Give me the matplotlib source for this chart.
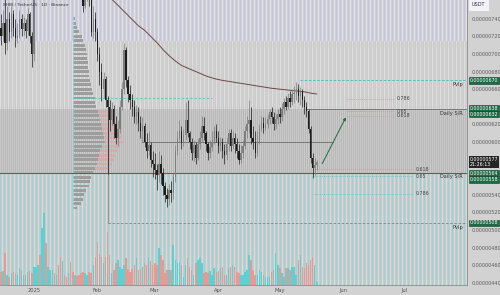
import numpy as np
import matplotlib.pyplot as plt
from matplotlib.patches import FancyArrowPatch
from matplotlib.transforms import blended_transform_factory
from matplotlib.colors import to_rgb

# prices in 1e-8 USDT, one candle per day, day 0 = 2024-12-16
first_open = 730
close = [720, 735, 712, 740, 725, 745, 730, 718, 722, 740, 728, 735, 726, 745, 720, 700, 780,
         800, 830, 815, 850, 870, 845, 860, 880, 900, 885, 910, 890, 870, 880, 860, 850, 870,
         840, 820, 835, 810, 800, 790, 755, 770, 780, 765, 725, 740, 725, 700, 680, 660, 672,
         648, 640, 625, 638, 620, 605, 615, 640, 660, 705, 670, 655, 648, 640, 628, 634, 622,
         612, 618, 600, 590, 596, 580, 575, 568, 562, 575, 565, 550, 540, 535, 545, 542, 560,
         590, 605, 612, 600, 608, 625, 610, 600, 588, 596, 582, 598, 605, 618, 610, 598, 588,
         594, 600, 612, 605, 595, 600, 590, 585, 598, 610, 595, 605, 598, 590, 580, 588, 595,
         612, 620, 625, 605, 600, 588, 600, 615, 622, 616, 620, 626, 634, 628, 620, 626, 632,
         628, 638, 645, 640, 650, 645, 655, 655, 660, 652, 658, 648, 640, 635, 615, 582, 570,
         574, 577]
high = [745, 750, 762, 755, 748, 755, 750, 740, 735, 750, 745, 742, 740, 752, 748, 725, 800,
        820, 845, 840, 870, 890, 880, 875, 900, 930, 915, 940, 925, 900, 905, 890, 875, 890,
        880, 850, 850, 840, 825, 815, 795, 785, 795, 790, 770, 755, 748, 730, 708, 690, 680,
        675, 652, 648, 645, 642, 630, 625, 648, 668, 712, 708, 675, 665, 655, 648, 642, 640,
        630, 628, 622, 610, 612, 600, 590, 588, 575, 590, 585, 570, 555, 548, 552, 556, 565,
        596, 612, 625, 618, 615, 645, 648, 612, 605, 602, 600, 605, 612, 630, 628, 612, 600,
        602, 612, 618, 620, 612, 606, 605, 598, 604, 615, 615, 612, 610, 604, 598, 596, 602,
        618, 630, 648, 640, 618, 612, 612, 620, 630, 628, 628, 632, 638, 640, 634, 632, 638,
        640, 644, 650, 652, 656, 658, 660, 664, 668, 666, 662, 660, 652, 645, 638, 618, 588,
        582, 580]
low = [710, 715, 700, 705, 715, 718, 720, 708, 712, 718, 720, 722, 718, 722, 712, 685, 692,
       775, 790, 800, 810, 840, 830, 835, 850, 870, 865, 880, 870, 855, 860, 840, 830, 840,
       820, 800, 805, 790, 780, 770, 748, 752, 760, 755, 720, 718, 715, 692, 665, 647, 650,
       640, 564, 612, 618, 605, 598, 595, 610, 636, 655, 662, 645, 638, 630, 622, 620, 612,
       605, 600, 594, 582, 585, 572, 560, 558, 545, 555, 552, 540, 532, 526, 528, 532, 535,
       555, 585, 600, 592, 595, 602, 606, 592, 580, 578, 575, 580, 592, 600, 602, 590, 580,
       582, 590, 598, 600, 588, 590, 582, 575, 580, 590, 590, 592, 588, 582, 575, 576, 582,
       592, 605, 610, 598, 592, 582, 584, 598, 612, 610, 614, 616, 620, 622, 614, 615, 620,
       622, 624, 632, 636, 638, 640, 642, 644, 648, 645, 642, 640, 632, 628, 610, 576, 559,
       562, 568]
volume = [13, 14, 32, 10, 8, 12, 13, 12, 10, 17, 15, 10, 10, 13, 14, 12, 18, 18, 20, 30,
          57, 72, 42, 18, 15, 15, 12, 10, 20, 28, 24, 10, 8, 12, 23, 13, 10, 9, 10, 12,
          13, 12, 10, 13, 12, 20, 28, 43, 31, 28, 22, 28, 53, 30, 12, 15, 22, 25, 18, 16,
          20, 27, 16, 13, 16, 20, 27, 15, 16, 18, 22, 20, 28, 24, 20, 22, 20, 37, 30, 25,
          12, 15, 15, 15, 40, 25, 22, 23, 20, 8, 20, 27, 18, 15, 10, 22, 25, 27, 22, 12,
          13, 12, 14, 10, 17, 13, 14, 17, 18, 10, 10, 17, 18, 20, 18, 13, 12, 10, 10, 13,
          15, 30, 25, 15, 10, 10, 15, 13, 10, 8, 8, 8, 13, 15, 32, 20, 17, 12, 8, 17,
          17, 15, 18, 18, 10, 25, 30, 18, 17, 22, 20, 25, 28, 20, 3]

# 200-day moving average readings
ma_days = [52, 55, 58, 61, 64, 67, 70, 73, 76, 79, 82, 85, 88, 92, 96, 100, 104, 108, 112,
           116, 120, 124, 128, 132, 136, 140, 144, 148, 151, 154]
ma_vals = [767, 760, 753, 746, 739, 732, 727, 720, 713, 705, 698, 692, 687, 683, 679, 675,
           672, 670, 668.5, 667, 665.5, 664, 662.5, 661, 660, 659, 658, 657, 655.5, 654.5]

# volume profile (rows of price), buy part and sell part
profile_prices = list(range(525, 745, 5))
profile_buy = [4, 8, 10, 11, 13, 16, 17, 18, 20, 22, 24, 25, 26, 27, 29, 32, 31, 30, 29, 28,
               27, 26, 25, 23, 22, 22, 20, 19, 18, 17, 16, 16, 15, 15, 14, 14, 13, 12, 10, 9,
               6, 4, 3, 2]
profile_sell = [0, 0, 0, 0, 0, 0, 0, 0, 0, 14, 15, 16, 17, 18, 18, 19, 18, 18, 17, 17,
                16, 15, 14, 0, 0, 0, 0, 0, 0, 0, 0, 0, 0, 0, 0, 0, 0, 0, 0, 0,
                0, 0, 0, 0]

date_ticks = [16, 47, 75, 106, 136, 167, 197]
date_labels = ['2025', 'Feb', 'Mar', 'Apr', 'May', 'Jun', 'Jul']

poc = 600.5
sr_top = [638, 632]
sr_bottom = [564, 558]
pivot_high = 670
pivot_low = 508
fib_up_levels = ['0.786', '0.65', '0.618']
fib_up_prices = [649, 635, 630]
fib_dn_levels = ['0.618', '0.65', '0.786']
fib_dn_prices = [569, 561, 541]
proj_start = (156.1, 572.7)
proj_end = (168.8, 630.7)

XMIN, XMAX = -0.5, 227.3
YMIN, YMAX = 437.5, 761.3

fig = plt.figure(figsize=(5, 2.95), dpi=100)
fig.patch.set_facecolor('#d2d2d2')
ax = fig.add_axes([0, 10 / 295, 467 / 500, 285 / 295])
ax.set_xlim(XMIN, XMAX)
ax.set_ylim(YMIN, YMAX)

# striped background, one image column per pixel
W, H = 467, 285
row_price = YMAX - (np.arange(H) + 0.5) * (YMAX - YMIN) / H
col = np.arange(W)
bg = np.zeros((H, W, 3))
zones = [
    (715, 1e9, '#d0d0d3', '#c6c6e4', '#e2e2e6', 4),
    (638, 715, '#cbcbcb', '#dddddd', '#d2d2d2', 4),
    (565, 638, '#b8b8b8', '#c9c9c9', '#bebebe', 2),
    (0, 565, '#c9c9c9', '#98d5da', '#dadada', 4),
]
for lo, hi, base, sa, sb, period in zones:
    line = np.tile(np.array(to_rgb(base)), (W, 1))
    line[col % period == 0] = to_rgb(sa)
    if period == 4:
        line[col % period == 2] = to_rgb(sb)
    rows = (row_price >= lo) & (row_price < hi)
    bg[rows] = line
ax.imshow(bg, extent=(XMIN, XMAX, YMIN, YMAX), aspect='auto', interpolation='nearest',
          zorder=0)

# volume profile
px_day = 1 / 2.05
buy_w = np.array(profile_buy) * px_day
sell_w = np.array(profile_sell) * px_day
ax.barh(profile_prices, buy_w, left=35.2, height=3.3, color='#9d9d9d', lw=0, zorder=1)
ax.barh(profile_prices, np.full(len(buy_w), 0.6), left=35.2, height=3.3, color='#7fcdd0',
        lw=0, zorder=1.1)
ax.barh(profile_prices, sell_w, left=35.2 + buy_w, height=3.3, color='#d6a8a8', lw=0,
        alpha=0.75, zorder=1)

# levels
ax.axhline(sr_bottom[0] + 1, color='#2f7a55', lw=0.8, zorder=2)
ax.plot([149, XMAX], [sr_top[0], sr_top[0]], color='#7a7a7a', lw=0.7, zorder=2)
ax.plot([69, 162], [poc, poc], color='#777777', lw=0.7, zorder=2)
ax.plot([146, XMAX], [pivot_high, pivot_high], color='#45b9bd', lw=0.6, ls=(0, (3, 2)), zorder=2)
ax.plot([52, XMAX], [pivot_low, pivot_low], color='#8a7c98', lw=0.6, ls=(0, (3, 2)), zorder=2)
ax.plot([35, 103], [650, 650], color='#5bbfc2', lw=0.6, ls=(0, (3, 2)), zorder=2)
ax.plot([52, 52], [pivot_low, 650], color='#8c8c8c', lw=0.6, zorder=2)

for lab, p in zip(fib_up_levels, fib_up_prices):
    ax.plot([168.8, 191.7], [p, p], color='#c59a9a', lw=0.5, ls=(0, (1.5, 1.5)), zorder=2)
    ax.text(193.2, p, lab, fontsize=3.4, color='#444444', va='center', ha='left', zorder=5)
for i, (lab, p) in enumerate(zip(fib_dn_levels, fib_dn_prices)):
    c = '#c59a9a' if i == 0 else '#5bbfc2'
    ax.plot([152, 201], [p, p], color=c, lw=0.5, ls=(0, (1.5, 1.5)), zorder=2)
    ax.text(202.4, p, lab, fontsize=3.4, color='#444444', va='center', ha='left', zorder=5)

ax.text(225.4, 632, 'Daily S/R', fontsize=3.6, color='#333333', ha='right', va='center', zorder=5)
ax.text(225.4, 561, 'Daily S/R', fontsize=3.6, color='#333333', ha='right', va='center', zorder=5)
ax.text(225.4, 665, 'Pvlp', fontsize=3.6, color='#333333', ha='right', va='center', zorder=5)
ax.text(225.4, 503, 'Pvlp', fontsize=3.6, color='#333333', ha='right', va='center', zorder=5)

# moving average
ax.plot(ma_days, ma_vals, color='#6a4848', lw=0.7, zorder=3)

# candles
opens = [first_open] + close[:-1]
days = np.arange(len(close))
for d, o, c, h, l in zip(days, opens, close, high, low):
    cc = '#7e7e7e' if c >= o else '#1d1d1d'
    ax.vlines(d, min(l, o, c), max(h, o, c), color=cc, lw=0.5, zorder=4)
    ax.bar(d, max(abs(c - o), 0.8), bottom=min(o, c), width=0.7, color=cc, lw=0, zorder=4)

arrow = FancyArrowPatch(proj_start, proj_end, arrowstyle='-|>', mutation_scale=4,
                        color='#1f6a45', lw=0.7, zorder=5)
ax.add_patch(arrow)

# volume
ax2 = ax.twinx()
ax2.set_ylim(0, 285)
ax2.patch.set_visible(False)
vcol = ['#5fcfd1' if c >= o else '#e39b95' for o, c in zip(opens, close)]
ax2.bar(days, volume, width=0.75, color=vcol, lw=0, zorder=3)
ax2.set_yticks([])
for s in ax2.spines.values():
    s.set_visible(False)

# axes styling
ticks = list(range(440, 741, 20))
hidden = {560, 580, 640}
ax.yaxis.tick_right()
ax.set_yticks(ticks)
ax.set_yticklabels(['' if v in hidden else f'{v * 1e-8:.8f}' for v in ticks])
ax.tick_params(axis='y', length=0, pad=3, labelsize=3.5, labelcolor='#5a5a5a')
ax.set_xticks(date_ticks)
ax.set_xticklabels(date_labels)
ax.tick_params(axis='x', length=0, pad=2.5, labelsize=3.7, labelcolor='#555555')
for k in ['top', 'left']:
    ax.spines[k].set_visible(False)
ax.spines['bottom'].set_color('#8a8a8a')
ax.spines['right'].set_color('#8a8a8a')
ax.spines['bottom'].set_linewidth(0.6)
ax.spines['right'].set_linewidth(0.6)

ax.text(3 / 467, 1 - 5 / 285, 'SHIB / TetherUS · 1D · Binance', transform=ax.transAxes,
        fontsize=3.2, color='#333333', va='center', ha='left', zorder=6)

# price labels on the right axis
tr = blended_transform_factory(ax.transAxes, ax.transData)
box_x = 1 + 2.5 / 467
green = dict(boxstyle='square,pad=0.15', fc='#1d6b44', ec='#0f3f28', lw=0.4)


def price_box(p, y, va):
    ax.text(box_x, y, f'{p * 1e-8:.8f}', transform=tr, fontsize=3.4, color='white',
            va=va, ha='left', clip_on=False, zorder=7, bbox=green)


price_box(pivot_high, pivot_high, 'center')
price_box(pivot_low, pivot_low, 'center')
for pair in (sr_top, sr_bottom):
    mid = sum(pair) / 2
    price_box(pair[0], mid + 0.6, 'bottom')
    price_box(pair[1], mid - 0.6, 'top')
ax.text(box_x, close[-1], f'{close[-1] * 1e-8:.8f}\n21:26:13', transform=tr, fontsize=3.4,
        color='white', va='center', ha='left', clip_on=False, zorder=7, linespacing=1.1,
        bbox=dict(boxstyle='square,pad=0.2', fc='#262626', ec='none'))
fig.text(472 / 500, 1 - 5 / 295, 'USDT', fontsize=3.6, color='#333333', va='center', ha='left',
         bbox=dict(boxstyle='square,pad=0.6', fc='#f2f2f8', ec='none'))

fig.savefig('out.png', dpi=100, facecolor=fig.get_facecolor())
